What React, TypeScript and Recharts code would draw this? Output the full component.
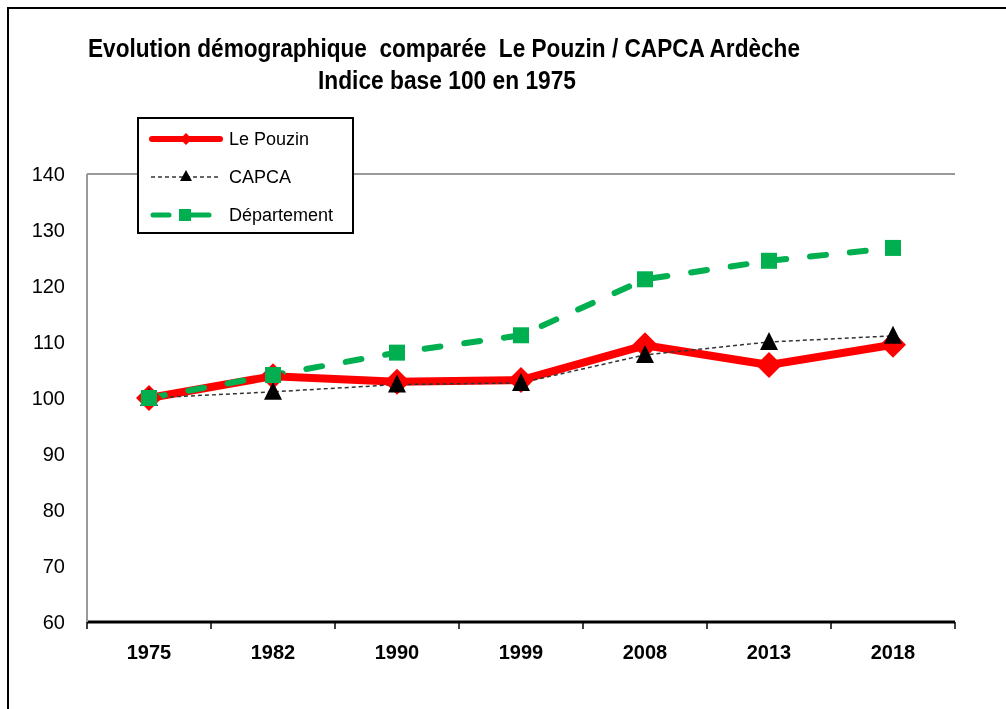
import React from "react";
import {
  LineChart,
  Line,
  XAxis,
  YAxis,
  CartesianGrid,
  Legend,
} from "recharts";

const years = ["1975", "1982", "1990", "1999", "2008", "2013", "2018"];
const lePouzin = [100, 103.9, 102.9, 103.2, 109.4, 105.9, 109.5];
const capca = [100, 101.1, 102.4, 102.7, 107.7, 110.0, 111.1];
const departement = [100, 104.1, 108.1, 111.2, 121.2, 124.5, 126.8];
const yTicks = [60, 70, 80, 90, 100, 110, 120, 130, 140];
const titleLines = [
  "Evolution démographique  comparée  Le Pouzin / CAPCA Ardèche",
  "Indice base 100 en 1975",
];

const data = years.map((year, i) => ({
  year,
  idx: i,
  lePouzin: lePouzin[i],
  capca: capca[i],
  departement: departement[i],
}));

// boundaries between the year categories, for the small tick marks
const edges = Array.from({ length: years.length + 1 }, (_, i) => i);

const RED = "#FF0000";
const GREEN = "#00B050";
const FONT = "'Liberation Sans', Arial, sans-serif";

const Diamond = (props: any) => {
  const { cx, cy } = props;
  if (cx == null || cy == null) return null;
  const r = 13;
  return (
    <polygon
      points={`${cx},${cy - r} ${cx + r},${cy} ${cx},${cy + r} ${cx - r},${cy}`}
      fill={RED}
    />
  );
};

const Triangle = (props: any) => {
  const { cx, cy } = props;
  if (cx == null || cy == null) return null;
  return (
    <polygon
      points={`${cx},${cy - 10} ${cx + 9},${cy + 8} ${cx - 9},${cy + 8}`}
      fill="#000"
    />
  );
};

const Square = (props: any) => {
  const { cx, cy } = props;
  if (cx == null || cy == null) return null;
  return <rect x={cx - 8} y={cy - 8} width={16} height={16} fill={GREEN} />;
};

const LegendBox = () => {
  const row = { display: "flex", alignItems: "center", height: 38 };
  const label = { fontFamily: FONT, fontSize: 18, color: "#000", marginLeft: 6 };
  return (
    <div
      style={{
        width: 217,
        height: 117,
        border: "2px solid #000",
        boxSizing: "border-box",
        background: "#fff",
        paddingLeft: 10,
        paddingTop: 1,
      }}
    >
      <div style={row}>
        <svg width={74} height={20}>
          <line x1={3} y1={10} x2={71} y2={10} stroke={RED} strokeWidth={6} strokeLinecap="round" />
          <polygon points="37,4 43,10 37,16 31,10" fill={RED} />
        </svg>
        <span style={label}>Le Pouzin</span>
      </div>
      <div style={row}>
        <svg width={74} height={20}>
          <line x1={2} y1={10} x2={72} y2={10} stroke="#333" strokeWidth={1.5} strokeDasharray="4 3" />
          <polygon points="37,3 43,14 31,14" fill="#000" />
        </svg>
        <span style={label}>CAPCA</span>
      </div>
      <div style={row}>
        <svg width={74} height={20}>
          <line x1={4} y1={10} x2={20} y2={10} stroke={GREEN} strokeWidth={5} strokeLinecap="round" />
          <rect x={30} y={4} width={12} height={12} fill={GREEN} />
          <line x1={40} y1={10} x2={60} y2={10} stroke={GREEN} strokeWidth={5} strokeLinecap="round" />
        </svg>
        <span style={label}>Département</span>
      </div>
    </div>
  );
};

export default function App() {
  return (
    <div>
      <div
        style={{
          position: "fixed",
          left: 7,
          top: 7,
          width: 1020,
          height: 730,
          border: "2px solid #000",
          boxSizing: "border-box",
        }}
      />
      <svg
        width={1006}
        height={110}
        style={{ position: "fixed", left: 0, top: 0, zIndex: 2 }}
      >
        <text
          x={88}
          y={57}
          textLength={712}
          lengthAdjust="spacingAndGlyphs"
          fontFamily={FONT}
          fontWeight="bold"
          fontSize={25}
          fill="#000"
          style={{ whiteSpace: "pre" }}
        >
          {titleLines[0]}
        </text>
        <text
          x={318}
          y={89}
          textLength={258}
          lengthAdjust="spacingAndGlyphs"
          fontFamily={FONT}
          fontWeight="bold"
          fontSize={25}
          fill="#000"
        >
          {titleLines[1]}
        </text>
      </svg>
      <div style={{ position: "fixed", left: 0, top: 0 }}>
        <LineChart
          width={1006}
          height={709}
          data={data}
          margin={{ top: 174, right: 51, left: 0, bottom: 39 }}
        >
          <CartesianGrid vertical={false} stroke="#999" strokeWidth={2} />
          <XAxis
            xAxisId="a"
            type="number"
            dataKey="idx"
            domain={[0, edges.length - 1]}
            allowDataOverflow
            ticks={edges}
            interval={0}
            tickFormatter={() => ""}
            height={8}
            tickSize={7}
            axisLine={{ stroke: "#000", strokeWidth: 3 }}
            tickLine={{ stroke: "#000", strokeWidth: 1.5 }}
          />
          <XAxis
            xAxisId="b"
            dataKey="year"
            scale="band"
            height={40}
            axisLine={false}
            tickLine={false}
            tickSize={0}
            tickMargin={15}
            tick={{ fontFamily: FONT, fontSize: 20, fontWeight: "bold", fill: "#000" }}
          />
          <YAxis
            yAxisId="v"
            domain={[60, 140]}
            ticks={yTicks}
            width={87}
            tickSize={0}
            tickMargin={22}
            tickLine={false}
            axisLine={{ stroke: "#999", strokeWidth: 2 }}
            tick={{ fontFamily: FONT, fontSize: 20, fill: "#000" }}
          />
          <YAxis
            yAxisId="frame"
            orientation="right"
            domain={[60, 140]}
            width={0}
            tick={false}
            tickLine={false}
            axisLine={{ stroke: "#999", strokeWidth: 2 }}
          />
          <Legend
            layout="horizontal"
            verticalAlign="middle"
            align="center"
            content={() => <LegendBox />}
            wrapperStyle={{ position: "absolute", left: 137, top: 117, width: 217, height: 117 }}
          />
          <Line
            xAxisId="b"
            yAxisId="v"
            dataKey="lePouzin"
            name="Le Pouzin"
            stroke={RED}
            strokeWidth={8}
            dot={<Diamond />}
            activeDot={false}
            isAnimationActive={false}
          />
          <Line
            xAxisId="b"
            yAxisId="v"
            dataKey="capca"
            name="CAPCA"
            stroke="#333"
            strokeWidth={1.5}
            strokeDasharray="4 3"
            dot={<Triangle />}
            activeDot={false}
            isAnimationActive={false}
          />
          <Line
            xAxisId="b"
            yAxisId="v"
            dataKey="departement"
            name="Département"
            stroke={GREEN}
            strokeWidth={6}
            strokeDasharray="16 24"
            strokeLinecap="round"
            dot={<Square />}
            activeDot={false}
            isAnimationActive={false}
          />
        </LineChart>
      </div>
    </div>
  );
}
